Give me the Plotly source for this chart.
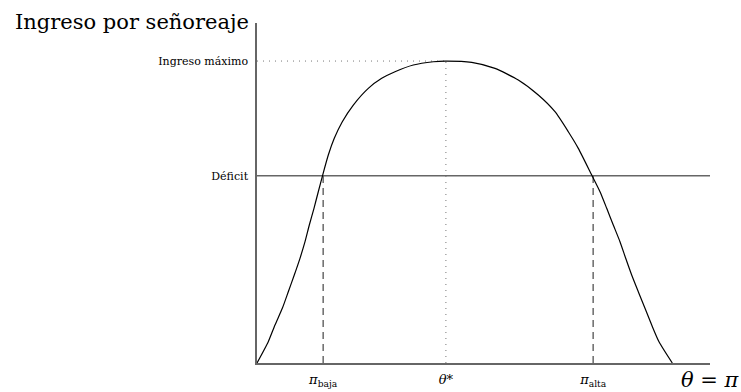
import plotly.graph_objects as go

# curva de Laffer del señoreaje (unidades arbitrarias)
theta = [0, 2.49, 3.97, 5.59, 6.91, 8.23, 9.49, 10.60, 11.55, 12.58, 13.53, 14.50,
         15.74, 17.06, 18.83, 21.26, 24.57, 27.53, 30.46, 34.50, 38.92, 41.50,
         47.40, 52.54, 57.68, 62.10, 65.78, 68.72, 70.93, 73.89, 75.72, 77.20,
         78.65, 80.13, 81.39, 82.71, 84.17, 85.65, 87.13, 88.74, 91.68]
ingreso = [0, 7.05, 12.58, 18.11, 23.61, 29.14, 34.67, 40.17, 45.70, 51.23, 56.72, 62.25,
           68.87, 74.40, 79.90, 85.43, 90.96, 94.27, 96.46, 98.68, 99.77, 100,
           99.57, 97.58, 93.71, 88.74, 83.21, 76.59, 71.09, 62.25, 56.72, 51.23,
           45.70, 40.17, 34.67, 29.14, 23.61, 18.11, 12.58, 7.05, 0]

deficit = 62
ingreso_max = 100
pi_baja = 14.6
theta_star = 41.7
pi_alta = 74.2

x_ticks = [pi_baja, theta_star, pi_alta]
x_labels = ["<i>π</i><sub>baja</sub>", "<i>θ</i>*", "<i>π</i><sub>alta</sub>"]
y_ticks = [deficit, ingreso_max]
y_labels = ["Déficit", "Ingreso máximo"]

serif = "DejaVu Serif"
grey = "#666666"

fig = go.Figure()

# lineas auxiliares
fig.add_trace(go.Scatter(x=[0, 100], y=[deficit, deficit], mode="lines",
                         line=dict(color=grey, width=1.4)))
fig.add_trace(go.Scatter(x=[0, theta_star], y=[ingreso_max, ingreso_max], mode="lines",
                         line=dict(color="#777777", width=1, dash="1px,5px")))
fig.add_trace(go.Scatter(x=[theta_star, theta_star], y=[0, ingreso_max], mode="lines",
                         line=dict(color="#777777", width=1, dash="1px,5px")))
for xv in [pi_baja, pi_alta]:
    fig.add_trace(go.Scatter(x=[xv, xv], y=[0, deficit], mode="lines",
                             line=dict(color="#444444", width=1.2, dash="7px,5px")))

# curva
fig.add_trace(go.Scatter(x=theta, y=ingreso, mode="lines",
                         line=dict(color="black", width=1.2, shape="spline", smoothing=0.6)))

fig.add_annotation(text="Ingreso por señoreaje", xref="paper", yref="paper",
                   x=-0.013, y=1.003, xanchor="right", yanchor="middle",
                   showarrow=False, font=dict(family=serif, size=21, color="black"))
fig.add_annotation(text="<i>θ</i> = <i>π</i>", xref="paper", yref="paper",
                   x=1.002, y=-0.05, xanchor="center", yanchor="middle",
                   showarrow=False, font=dict(family=serif, size=21, color="black"))

fig.update_xaxes(range=[0, 100], showgrid=False, zeroline=False, automargin=False,
                 showline=True, linecolor=grey, linewidth=1.5,
                 tickvals=x_ticks, ticktext=x_labels, ticks="", ticklabelstandoff=4,
                 tickfont=dict(family=serif, size=13, color="black"))
fig.update_yaxes(range=[0, 112.6], showgrid=False, zeroline=False, automargin=False,
                 showline=True, linecolor=grey, linewidth=1.5,
                 tickvals=y_ticks, ticktext=y_labels, ticks="", ticklabelstandoff=5,
                 tickfont=dict(family=serif, size=11, color="black"))

fig.update_layout(width=741, height=392, showlegend=False,
                  plot_bgcolor="white", paper_bgcolor="white",
                  margin=dict(l=257, r=31, t=23, b=29))

# quitar el margen por defecto de la pagina
fig.write_html("out.html", config={"displayModeBar": False},
               post_script="document.body.style.margin='0';document.body.style.overflow='hidden';")
